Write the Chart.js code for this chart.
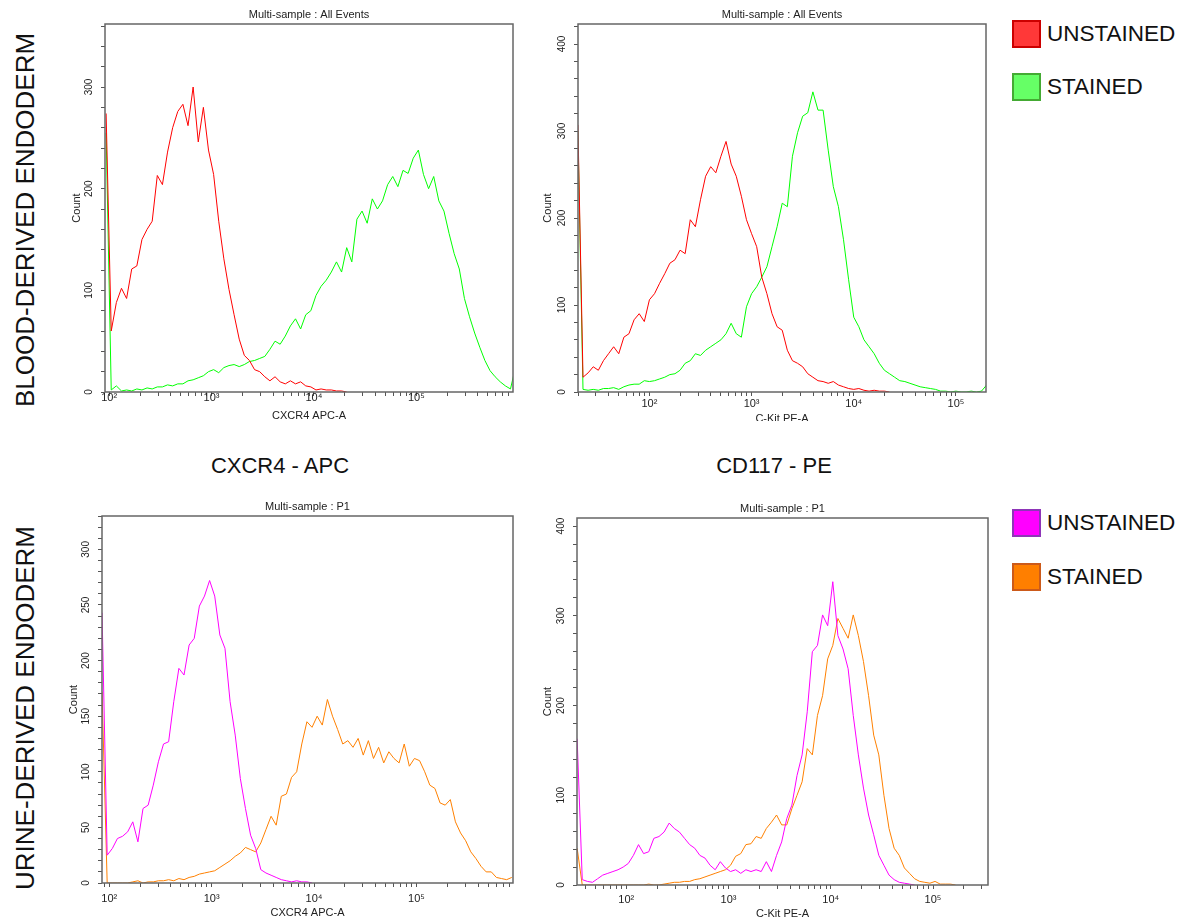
<!DOCTYPE html>
<html>
<head>
<meta charset="utf-8">
<title>CXCR4 / CD117 flow histograms</title>
<script src="https://cdn.jsdelivr.net/npm/chart.js@4.4.1/dist/chart.umd.min.js"></script>
<style>
    body {
        margin: 0;
        width: 1189px;
        height: 922px;
        position: relative;
        overflow: hidden;
        background: #fff;
        font-family: 'Liberation Sans', Arial, sans-serif;
        color: #111;
    }
    .panel { position: absolute; overflow: hidden; }
    .panel canvas { display: block; }
    .row-label, .col-label {
        position: absolute;
        white-space: nowrap;
        line-height: 1;
    }
    .row-label { font-size: 26px; transform: translate(-50%, -50%) rotate(-90deg); }
    .col-label { font-size: 22px; transform: translate(-50%, -50%); }
    .swatch { position: absolute; width: 25px; height: 24px; border: 2px solid; }
    .legend-text {
        position: absolute;
        font-size: 22.5px;
        line-height: 1;
        transform: translateY(-50%);
        white-space: nowrap;
    }
</style>
</head>
<body>
<script>
/* global Chart */

// histogram channels are evenly spaced in log10, one every 0.05 decade
const binStep = 0.05;

// top left: blood-derived, CXCR4 APC-A
const tlBinStart = 1.97;
const tlUnstained = [274, 60, 88, 102, 92, 121, 124, 150, 160, 168, 213, 204, 236, 260, 276, 283,
    262, 300, 246, 280, 238, 214, 168, 131, 101, 76, 52, 36, 31, 22, 20, 15, 11, 15, 10, 8, 11, 8,
    10, 6, 5, 2, 3, 2, 2, 1, 1, 0];
const tlStained = [255, 2, 6, 1, 2, 1, 3, 2, 4, 3, 5, 5, 7, 6, 8, 8, 11, 12, 14, 16, 20, 22, 19,
    24, 26, 27, 25, 27, 30, 31, 33, 35, 42, 50, 47, 55, 65, 72, 62, 76, 80, 95, 104, 110, 118, 128,
    118, 142, 128, 170, 178, 166, 190, 180, 188, 204, 212, 202, 218, 215, 230, 238, 214, 200, 212,
    188, 178, 156, 136, 121, 92, 74, 58, 44, 31, 21, 15, 10, 6, 3, 25];

// top right: blood-derived, C-Kit PE-A
const trBinStart = 1.30;
const trUnstained = [307, 17, 22, 29, 25, 36, 44, 52, 44, 63, 67, 83, 90, 81, 106, 113, 125, 136,
    148, 152, 163, 159, 198, 190, 221, 248, 259, 252, 271, 288, 262, 248, 225, 198, 182, 167, 132,
    113, 90, 75, 71, 48, 36, 33, 29, 21, 17, 13, 12, 10, 12, 8, 6, 4, 3, 4, 2, 1, 2, 1, 1, 0];
const trStained = [300, 3, 2, 3, 2, 4, 4, 5, 3, 6, 8, 9, 9, 13, 12, 13, 15, 17, 20, 21, 25, 33,
    36, 44, 42, 48, 52, 56, 60, 67, 79, 67, 63, 98, 113, 121, 132, 144, 167, 190, 217, 213, 271,
    298, 317, 321, 345, 324, 324, 278, 236, 213, 175, 129, 86, 75, 60, 52, 44, 33, 25, 21, 17, 13,
    12, 10, 8, 6, 5, 4, 3, 1, 1, 0, 1, 0, 0, 1, 0, 1, 8];

// bottom left: urine-derived, CXCR4 APC-A
const blBinStart = 1.93;
const blUnstained = [243, 25, 31, 40, 42, 46, 55, 37, 67, 70, 88, 109, 125, 127, 163, 193, 187,
    214, 220, 249, 258, 272, 258, 223, 211, 163, 133, 94, 67, 43, 31, 12, 9, 7, 5, 3, 2, 1, 2, 1,
    1, 0];
const blStained = [172, 0, 0, 0, 0, 0, 1, 2, 0, 1, 1, 2, 2, 3, 2, 4, 3, 5, 6, 8, 9, 10, 11, 14,
    17, 20, 24, 27, 32, 30, 28, 36, 48, 60, 52, 78, 80, 95, 100, 125, 145, 140, 150, 142, 165, 150,
    138, 125, 128, 122, 130, 115, 128, 112, 122, 108, 118, 112, 108, 125, 105, 112, 110, 100, 88,
    85, 72, 70, 75, 55, 45, 38, 28, 22, 15, 10, 10, 5, 4, 3, 5];

// bottom right: urine-derived, C-Kit PE-A
const brBinStart = 1.52;
const brUnstained = [163, 6, 4, 3, 7, 11, 13, 15, 17, 20, 24, 33, 45, 35, 37, 52, 54, 59, 69, 63,
    59, 52, 45, 41, 33, 30, 22, 17, 26, 19, 15, 17, 13, 17, 15, 17, 15, 26, 15, 33, 48, 74, 89,
    122, 145, 193, 260, 267, 301, 289, 338, 278, 263, 241, 189, 145, 108, 78, 56, 33, 22, 11, 6,
    3, 2, 1, 0];
const brStained = [41, 0, 0, 0, 0, 0, 0, 0, 0, 0, 0, 0, 0, 0, 1, 0, 0, 1, 2, 3, 3, 4, 4, 6, 7, 9,
    11, 13, 15, 17, 22, 32, 35, 45, 46, 54, 52, 63, 70, 78, 67, 67, 85, 100, 115, 152, 145, 189,
    211, 252, 267, 297, 286, 275, 301, 278, 249, 211, 167, 145, 100, 63, 41, 33, 19, 13, 7, 4, 3,
    2, 4, 1, 1, 1, 0];

const decadeValues = [100, 1000, 10000, 100000];
const decadeLabels = ['10²', '10³', '10⁴', '10⁵'];
const legendLabels = ['UNSTAINED', 'STAINED'];
const rowLabels = ['BLOOD-DERIVED ENDODERM', 'URINE-DERIVED ENDODERM'];
const columnLabels = ['CXCR4 - APC', 'CD117 - PE'];
const chartTitles = ['Multi-sample : All Events', 'Multi-sample : P1'];
const axisTitles = ['CXCR4 APC-A', 'C-Kit PE-A'];

const bloodColors = { unstained: '#ff0000', stained: '#00ff00' };
const urineColors = { unstained: '#ff00ff', stained: '#ff8000' };

const panels = [
    {
        title: chartTitles[0], xTitle: axisTitles[0], xMin: 91, xMax: 880000, yMax: 362, yStep: 20, yLabelEvery: 100,
        binStart: tlBinStart, unstained: tlUnstained, stained: tlStained, colors: bloodColors,
        box: { left: 60, top: 0, width: 458, height: 423, clip: 421 },
        yAxisWidth: 45, xAxisHeight: 31, titlePad: [8.4, 2.4], countPad: 10, xLabelPad: -4.6, xTitlePad: 0
    },
    {
        title: chartTitles[0], xTitle: axisTitles[1], xMin: 20, xMax: 197000, yMax: 423, yStep: 20, yLabelEvery: 100,
        binStart: trBinStart, unstained: trUnstained, stained: trStained, colors: bloodColors,
        box: { left: 530, top: 0, width: 461, height: 426, clip: 421 },
        yAxisWidth: 48, xAxisHeight: 34, titlePad: [8.4, 2.4], countPad: 11.4, xLabelPad: 1.4, xTitlePad: 0
    },
    {
        title: chartTitles[1], xTitle: axisTitles[0], xMin: 85, xMax: 875000, yMax: 330, yStep: 10, yLabelEvery: 50,
        binStart: blBinStart, unstained: blUnstained, stained: blStained, colors: urineColors,
        box: { left: 60, top: 490, width: 458, height: 432, clip: 432 },
        yAxisWidth: 42, xAxisHeight: 39, titlePad: [10.7, 2.1], countPad: 7.4, xLabelPad: 5.4, xTitlePad: 2.9
    },
    {
        title: chartTitles[1], xTitle: axisTitles[1], xMin: 33, xMax: 345000, yMax: 409, yStep: 20, yLabelEvery: 100,
        binStart: brBinStart, unstained: brUnstained, stained: brStained, colors: urineColors,
        box: { left: 530, top: 490, width: 463, height: 432, clip: 432 },
        yAxisWidth: 47, xAxisHeight: 37, titlePad: [12.4, 2.4], countPad: 10.9, xLabelPad: 4.4, xTitlePad: 1.4
    }
];

Chart.defaults.font.family = "'Liberation Sans', Arial, sans-serif";
Chart.defaults.color = '#222';

const toPoints = (binStart, counts) => counts.map((count, i) => ({
    x: Math.pow(10, binStart + i * binStep),
    y: count
}));

// 1..9 x 10^n marks between the axis limits
const logTicks = (min, max) => {
    const ticks = [];
    for (let exp = Math.floor(Math.log10(min)); exp <= Math.ceil(Math.log10(max)); exp++) {
        for (let m = 1; m < 10; m++) {
            const value = m * Math.pow(10, exp);
            if (value >= min && value <= max) {
                ticks.push({ value, major: m === 1 });
            }
        }
    }
    return ticks;
};

const decadeLabel = (value) => {
    const index = decadeValues.indexOf(value);
    return index >= 0 ? decadeLabels[index] : '';
};

const framePlugin = {
    id: 'frame',
    afterDatasetsDraw(chart) {
        const { ctx, chartArea } = chart;
        ctx.save();
        ctx.strokeStyle = '#666';
        ctx.lineWidth = 1.5;
        ctx.strokeRect(chartArea.left, chartArea.top, chartArea.right - chartArea.left, chartArea.bottom - chartArea.top);
        ctx.restore();
    }
};

const tickGrid = { drawOnChartArea: false, drawTicks: true, tickLength: 4, tickColor: '#555', tickWidth: 1 };

const buildChart = (panel) => {
    const wrap = document.createElement('div');
    wrap.className = 'panel';
    wrap.style.left = panel.box.left + 'px';
    wrap.style.top = panel.box.top + 'px';
    wrap.style.width = panel.box.width + 'px';
    wrap.style.height = panel.box.clip + 'px';
    const canvas = document.createElement('canvas');
    canvas.width = panel.box.width;
    canvas.height = panel.box.height;
    wrap.appendChild(canvas);
    document.body.appendChild(wrap);

    return new Chart(canvas, {
        type: 'line',
        data: {
            datasets: [
                { label: legendLabels[0], data: toPoints(panel.binStart, panel.unstained), borderColor: panel.colors.unstained },
                { label: legendLabels[1], data: toPoints(panel.binStart, panel.stained), borderColor: panel.colors.stained }
            ].map((dataset) => Object.assign(dataset, { borderWidth: 1, pointRadius: 0, tension: 0, fill: false }))
        },
        options: {
            responsive: false,
            animation: false,
            events: [],
            layout: { padding: { top: 0, right: 5, bottom: 0, left: 0 } },
            plugins: {
                legend: { display: false },
                tooltip: { enabled: false },
                title: {
                    display: true,
                    text: panel.title,
                    fullSize: false,
                    color: '#222',
                    font: { size: 11, weight: 'normal' },
                    padding: { top: panel.titlePad[0], bottom: panel.titlePad[1] }
                }
            },
            scales: {
                x: {
                    type: 'logarithmic',
                    min: panel.xMin,
                    max: panel.xMax,
                    border: { display: false },
                    grid: tickGrid,
                    afterBuildTicks: (scale) => { scale.ticks = logTicks(scale.min, scale.max); },
                    afterFit: (scale) => { scale.height = panel.xAxisHeight; },
                    ticks: {
                        autoSkip: false,
                        maxRotation: 0,
                        padding: panel.xLabelPad,
                        font: { size: 11 },
                        callback: decadeLabel
                    },
                    title: {
                        display: true,
                        text: panel.xTitle,
                        font: { size: 11 },
                        padding: { top: 0, bottom: panel.xTitlePad }
                    }
                },
                y: {
                    min: 0,
                    max: panel.yMax,
                    border: { display: false },
                    grid: tickGrid,
                    afterFit: (scale) => { scale.width = panel.yAxisWidth; },
                    ticks: {
                        stepSize: panel.yStep,
                        includeBounds: false,
                        autoSkip: false,
                        minRotation: 90,
                        maxRotation: 90,
                        crossAlign: 'center',
                        padding: 3,
                        font: { size: 10 },
                        callback: (value) => (value % panel.yLabelEvery === 0 ? String(value) : '')
                    },
                    title: {
                        display: true,
                        text: 'Count',
                        font: { size: 11 },
                        padding: { top: panel.countPad, bottom: 0 }
                    }
                }
            }
        },
        plugins: [framePlugin]
    });
};

const addText = (className, text, left, top) => {
    const element = document.createElement('div');
    element.className = className;
    element.textContent = text;
    element.style.left = left + 'px';
    element.style.top = top + 'px';
    document.body.appendChild(element);
    return element;
};

const addSwatch = (left, top, fill, border) => {
    const element = document.createElement('div');
    element.className = 'swatch';
    element.style.left = left + 'px';
    element.style.top = top + 'px';
    element.style.background = fill;
    element.style.borderColor = border;
    document.body.appendChild(element);
};

panels.forEach(buildChart);

addText('row-label', rowLabels[0], 25, 220);
addText('row-label', rowLabels[1], 25, 708);
addText('col-label', columnLabels[0], 280, 466);
addText('col-label', columnLabels[1], 774, 466);

addSwatch(1012, 20, '#ff3838', '#cc0000');
addSwatch(1012, 73, '#66ff66', '#44aa33');
addSwatch(1012, 509, '#ff00ff', '#8e35b8');
addSwatch(1012, 563, '#ff7f00', '#cc5a1a');
addText('legend-text', legendLabels[0], 1047, 34);
addText('legend-text', legendLabels[1], 1047, 87);
addText('legend-text', legendLabels[0], 1047, 523);
addText('legend-text', legendLabels[1], 1047, 577);
</script>
</body>
</html>
